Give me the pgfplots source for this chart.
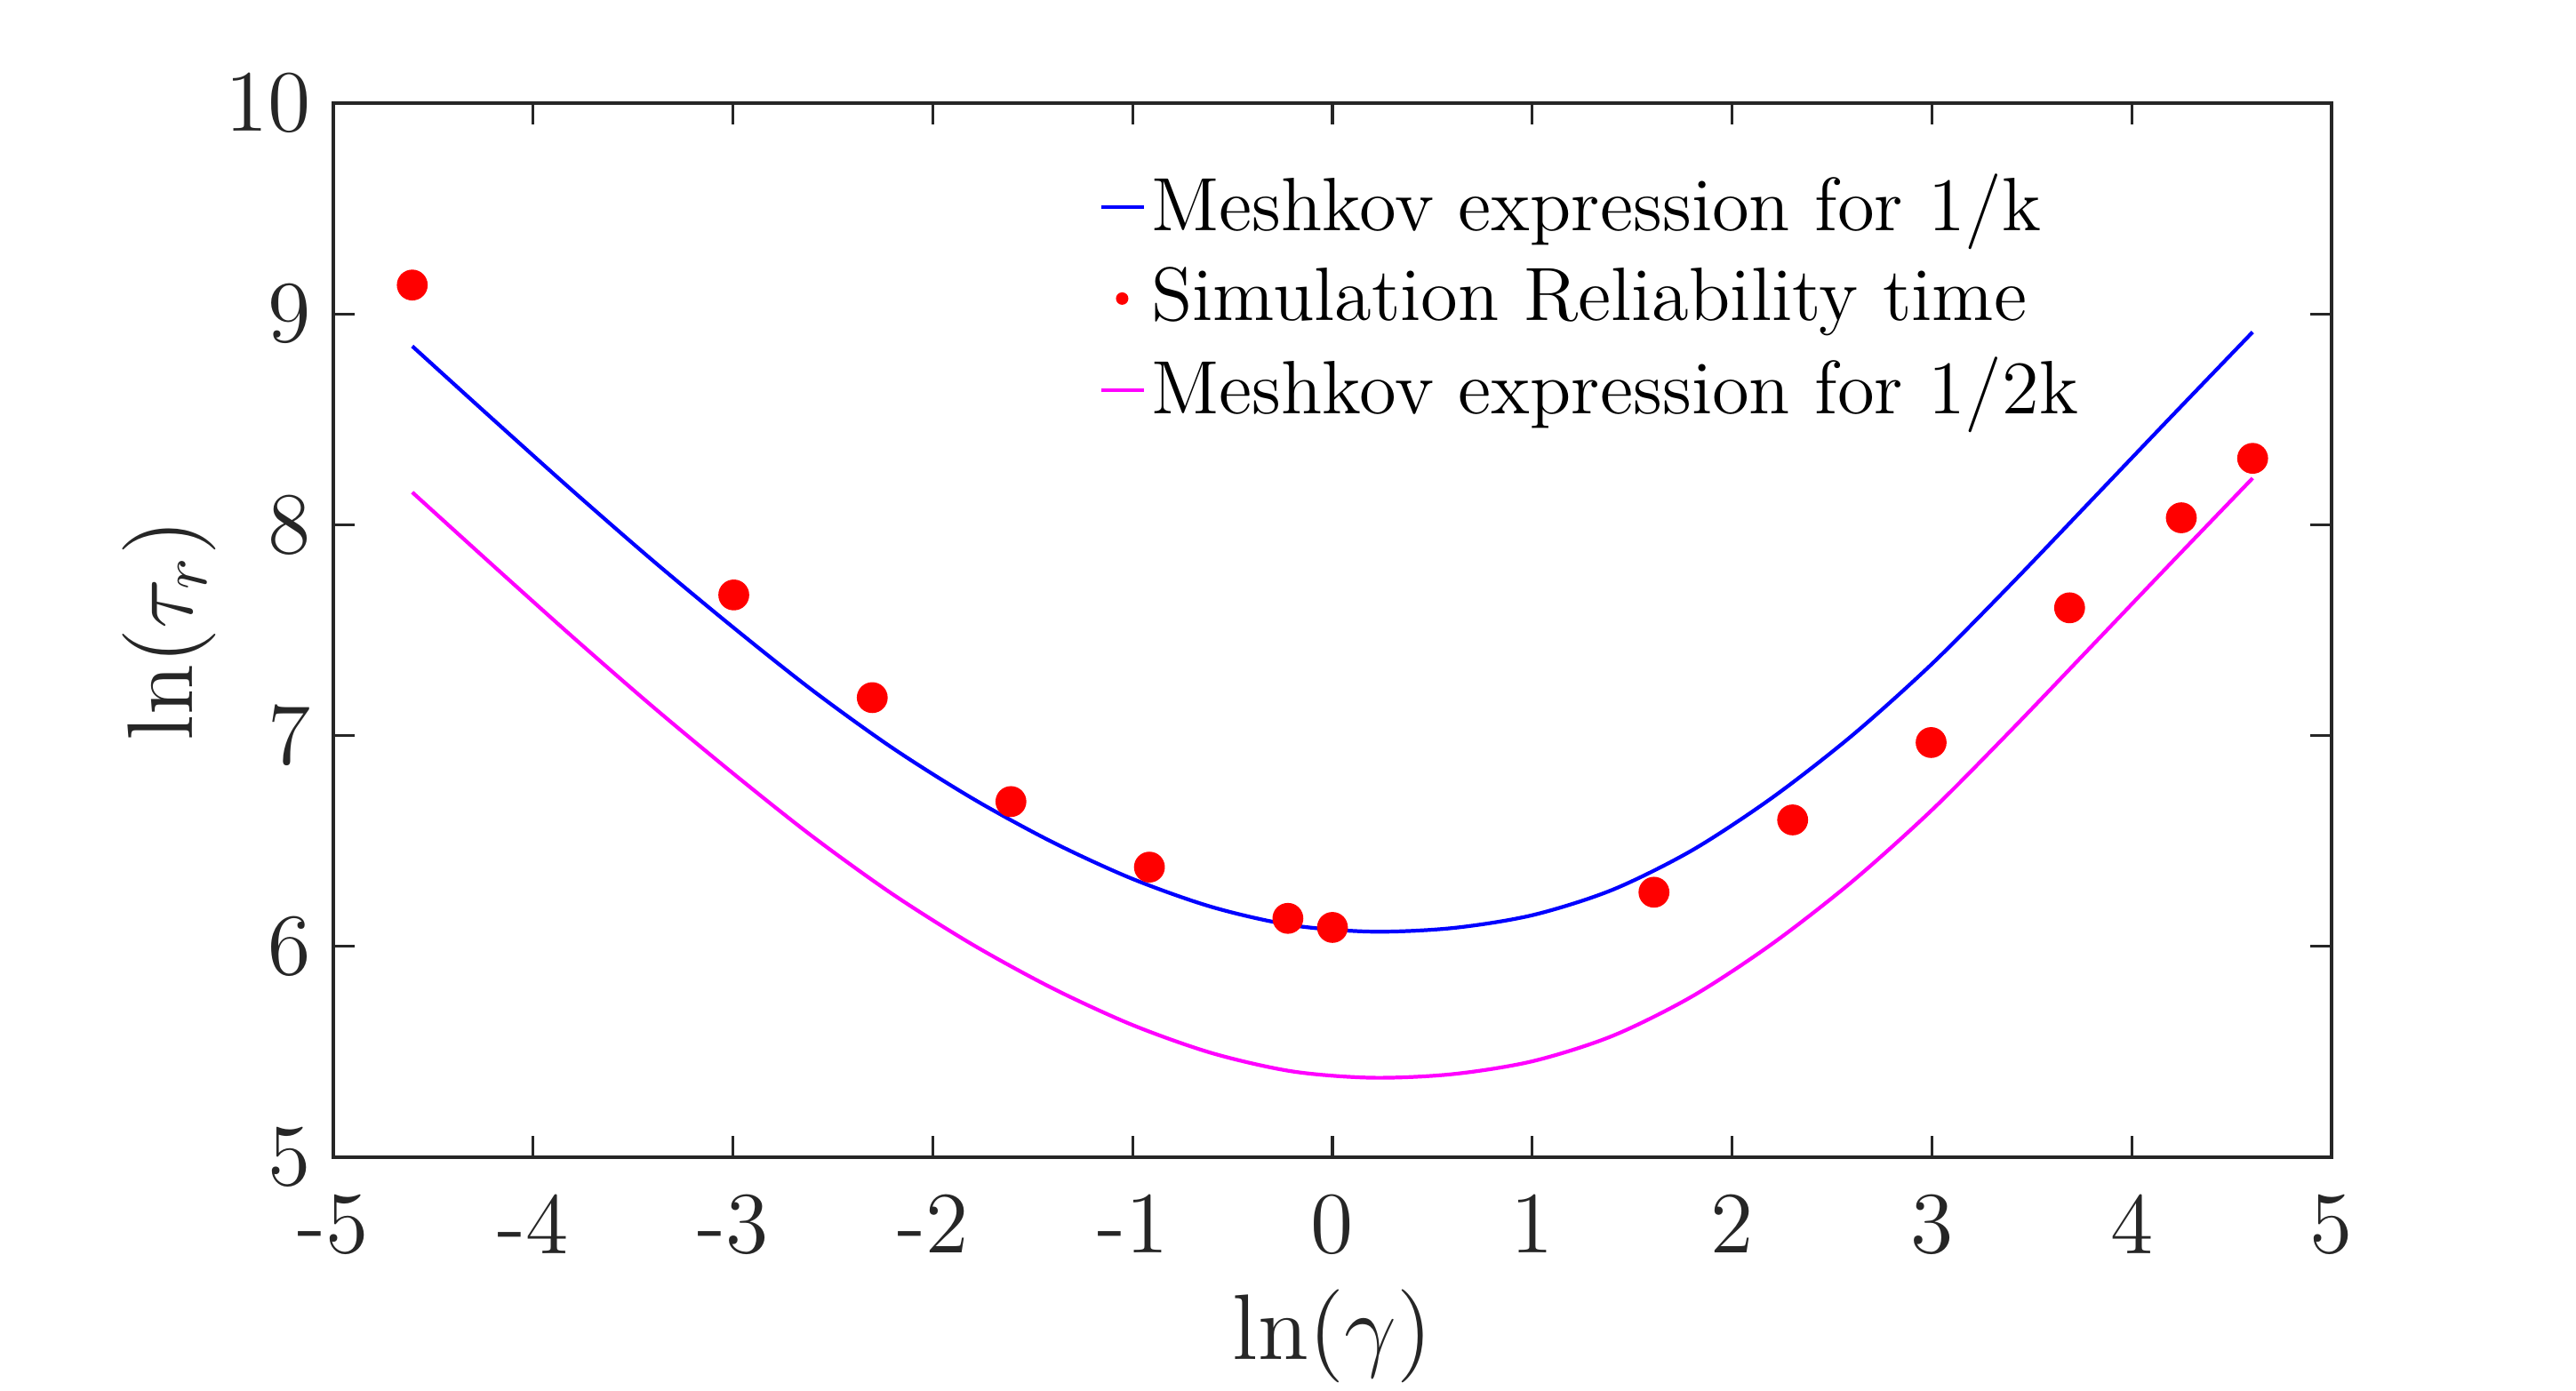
\RequirePackage{fix-cm}
\documentclass[border=0pt]{standalone}
\usepackage{pgfplots}
\pgfplotsset{compat=1.18}
\definecolor{axgray}{HTML}{262626}
\definecolor{mblue}{rgb}{0,0,1}
\definecolor{mred}{rgb}{1,0,0}
\definecolor{mmag}{rgb}{1,0,1}
\begin{document}
\begin{tikzpicture}
\begin{axis}[
  name=ax,
  scale only axis,
  width=11.24cm, height=5.93cm,
  xmin=-5, xmax=5, ymin=5, ymax=10,
  xtick={-5,-4,-3,-2,-1,0,1,2,3,4,5},
  xticklabels={-5,-4,-3,-2,-1,0,1,2,3,4,5},
  ytick={5,6,7,8,9,10},
  yticklabels={5,6,7,8,9,10},
  tick align=inside, tick pos=both,
  major tick length=0.12cm,
  axis line style={axgray, line width=0.47pt},
  tick style={axgray, line width=0.47pt},
  tick label style={font=\fontsize{14}{16}\selectfont, text=axgray},
  xticklabel style={yshift=-2.4pt},
  label style={font=\fontsize{14.9}{17}\selectfont, text=axgray},
  xlabel={$\ln(\gamma)$},
  ylabel={$\ln(\tau_r)$},
  xlabel style={at={(axis description cs:0.5,-0.1922)}, anchor=base, inner sep=0pt},
  ylabel style={at={(axis description cs:-0.0703,0.5)}, anchor=base, rotate=0, inner sep=0pt},
  legend cell align=left,
  legend style={draw=none, fill=none, inner sep=0pt, outer sep=0pt,
    at={(axis cs:-1.164,9.663)}, anchor=north west,
    font=\fontsize{12.1}{14}\selectfont,
    nodes={inner sep=0pt},
    row sep=4.33pt, column sep=0.03cm},
  clip=false,
]
\addplot[mblue, line width=0.6pt, smooth,
  legend image code/.code={\draw[mblue, line width=0.6pt] (0cm,0cm) -- (0.24cm,0cm);}]
  coordinates {
(-4.605,8.847) (-4.2,8.499) (-3.8,8.159) (-3.4,7.829) (-3.0,7.514)
(-2.6,7.213) (-2.2,6.940) (-1.8,6.701) (-1.4,6.494) (-1.0,6.320)
(-0.6,6.186) (-0.2,6.100) (0.2,6.070) (0.6,6.087) (1.0,6.148)
(1.4,6.268) (1.8,6.456) (2.2,6.705) (2.6,7.000) (3.0,7.340)
(3.4,7.722) (3.8,8.118) (4.2,8.515) (4.605,8.914)
};
\addlegendentry{Meshkov expression for 1/k}
\addplot[mred, only marks, mark=*, mark size=2.27pt, mark options={fill=mred, draw=none},
  legend image code/.code={\path[draw=none] (0cm,0cm) -- (0.24cm,0cm); \fill[mred, draw=none] (0.115cm,0cm) circle (0.035cm);}]
  coordinates {
(-4.605,9.137) (-2.996,7.667) (-2.303,7.180) (-1.609,6.687) (-0.916,6.376)
(-0.223,6.133) (0,6.090) (1.609,6.257) (2.303,6.600) (2.996,6.967)
(3.689,7.606) (4.248,8.033) (4.605,8.315)
};
\addlegendentry{Simulation Reliability time}
\addplot[mmag, line width=0.6pt, smooth,
  legend image code/.code={\draw[mmag, line width=0.6pt] (0cm,0cm) -- (0.24cm,0cm);}]
  coordinates {
(-4.605,8.154) (-4.2,7.806) (-3.8,7.466) (-3.4,7.136) (-3.0,6.821)
(-2.6,6.520) (-2.2,6.247) (-1.8,6.008) (-1.4,5.801) (-1.0,5.627)
(-0.6,5.493) (-0.2,5.407) (0.2,5.377) (0.6,5.394) (1.0,5.455)
(1.4,5.575) (1.8,5.763) (2.2,6.012) (2.6,6.307) (3.0,6.647)
(3.4,7.029) (3.8,7.425) (4.2,7.822) (4.605,8.221)
};
\addlegendentry{Meshkov expression for 1/2k}
\end{axis}
\path ([shift={(-1.875cm,-1.315cm)}]ax.south west) rectangle ([shift={(1.375cm,0.58cm)}]ax.north east);
\end{tikzpicture}
\end{document}
